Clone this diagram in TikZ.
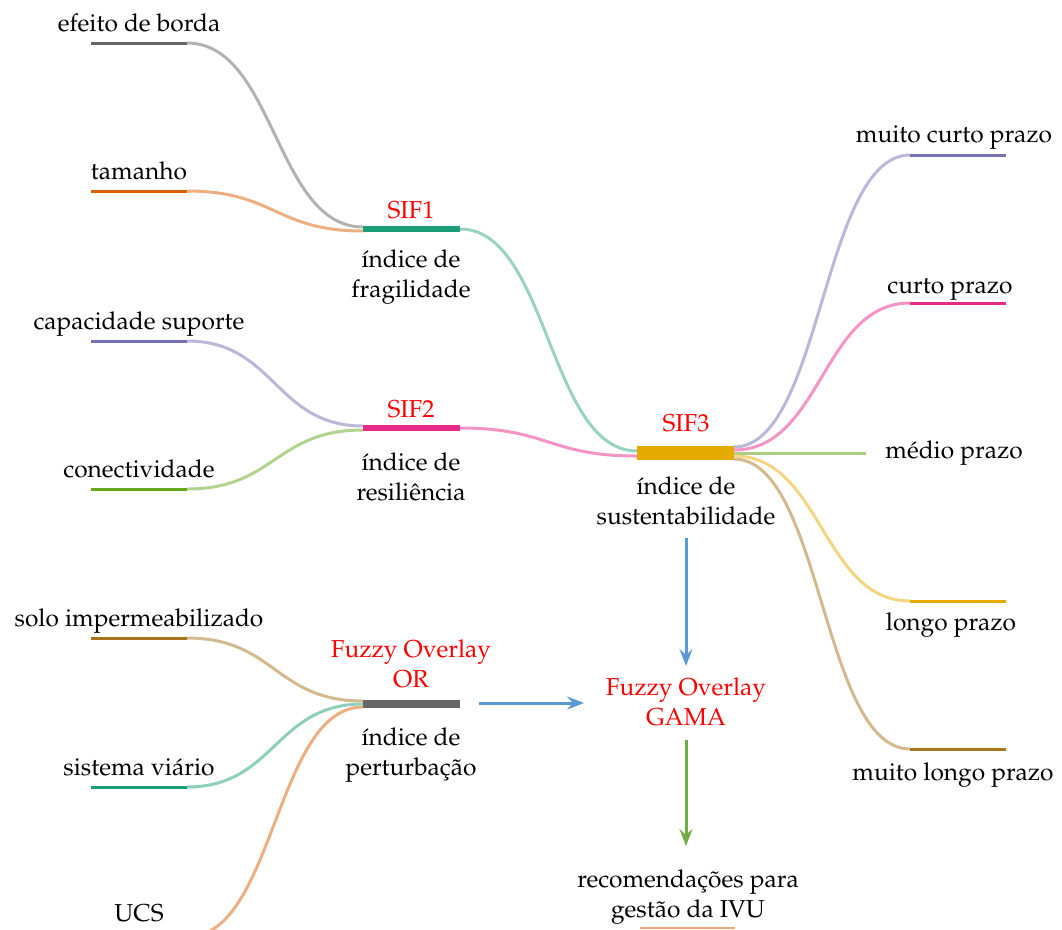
\documentclass[tikz,border=0pt]{standalone}
\usepackage[T1]{fontenc}
\usepackage{mathpazo}
\usetikzlibrary{arrows.meta,calc}
\definecolor{cteal}{HTML}{1B9E77}
\definecolor{corange}{HTML}{D95F02}
\definecolor{cpurple}{HTML}{7570B3}
\definecolor{cmagenta}{HTML}{E7298A}
\definecolor{cgreen}{HTML}{66A61E}
\definecolor{cyellow}{HTML}{E6AB02}
\definecolor{cbrown}{HTML}{A6761D}
\definecolor{cgray}{HTML}{666666}
\definecolor{cblue}{HTML}{5B9BD5}
\definecolor{cagreen}{HTML}{70AD47}
\begin{document}
\begin{tikzpicture}[x=1pt,y=-1pt,
  every node/.style={inner sep=0pt,outer sep=0pt,font=\fontsize{24.5}{29.5}\selectfont},
  lbl/.style={anchor=base,align=center},
  red lbl/.style={lbl,text=red},
  leafbar/.style={line width=3pt},
  midbar/.style={line width=6pt},
  curve/.style={line width=3pt,to path={let \p1=(\tikztostart), \p2=(\tikztotarget) in .. controls ({(\x1+\x2)/2},\y1) and ({(\x1+\x2)/2},\y2) .. (\tikztotarget)}},
  flow/.style={line width=3pt,-{Stealth[length=17pt,width=13pt,inset=6pt]}}
]
\useasboundingbox (0,0) rectangle (1062,929);
\clip (0,0) rectangle (1062,929);

% ---- coordinates of bars
\coordinate (ebL) at (91,43);   \coordinate (eb) at (187,43);
\coordinate (tamL) at (91,191); \coordinate (tam) at (187,191);
\coordinate (capL) at (91,341); \coordinate (cap) at (187,341);
\coordinate (conL) at (91,489); \coordinate (con) at (187,489);
\coordinate (soloL) at (91,638); \coordinate (solo) at (187,638);
\coordinate (sisL) at (91,787); \coordinate (sis) at (187,787);
\coordinate (ucsL) at (91,937); \coordinate (ucs) at (187,937);

\coordinate (sif1L) at (363,229); \coordinate (sif1R) at (460,229);
\coordinate (sif1a) at (363,227); \coordinate (sif1b) at (363,231);
\coordinate (sif2L) at (363,428); \coordinate (sif2R) at (460,428);
\coordinate (sif2a) at (363,426); \coordinate (sif2b) at (363,430);
\coordinate (orL) at (363,704); \coordinate (orR) at (460,704);
\coordinate (ora) at (363,701); \coordinate (orb) at (363,704); \coordinate (orc) at (363,707);
\coordinate (sif3L) at (637,453); \coordinate (sif3R) at (734,453);
\coordinate (sif3a) at (637,451); \coordinate (sif3b) at (637,456);
\coordinate (sif3o1) at (734,447); \coordinate (sif3o2) at (734,450);
\coordinate (sif3o3) at (734,453); \coordinate (sif3o4) at (734,456);
\coordinate (sif3o5) at (734,459);

\coordinate (mcp) at (910,155); \coordinate (mcpR) at (1006,155);
\coordinate (cp) at (910,303);  \coordinate (cpR) at (1006,303);
\coordinate (mp) at (866,453);
\coordinate (lp) at (910,601);  \coordinate (lpR) at (1006,601);
\coordinate (mlp) at (910,749); \coordinate (mlpR) at (1006,749);
\coordinate (recL) at (640,928); \coordinate (recR) at (735,928);

% ---- curves
\draw[curve,cgray!50!white] (eb) to (sif1a);
\draw[curve,corange!50!white] (tam) to (sif1b);
\draw[curve,cpurple!50!white] (cap) to (sif2a);
\draw[curve,cgreen!50!white] (con) to (sif2b);
\draw[curve,cbrown!50!white] (solo) to (ora);
\draw[curve,cteal!50!white] (sis) to (orb);
\draw[curve,corange!50!white] (ucs) to (orc);
\draw[curve,cteal!45!white] (sif1R) to (sif3a);
\draw[curve,cmagenta!50!white] (sif2R) to (sif3b);
\draw[curve,cpurple!50!white] (sif3o1) to (mcp);
\draw[curve,cmagenta!50!white] (sif3o2) to (cp);
\draw[line width=3pt,cgreen!55!white] (sif3o3) -- (mp);
\draw[curve,cyellow!50!white] (sif3o4) to (lp);
\draw[curve,cbrown!50!white] (sif3o5) to (mlp);

% ---- bars
\draw[leafbar,cgray] (ebL) -- (eb);
\draw[leafbar,corange] (tamL) -- (tam);
\draw[leafbar,cpurple] (capL) -- (cap);
\draw[leafbar,cgreen] (conL) -- (con);
\draw[leafbar,cbrown] (soloL) -- (solo);
\draw[leafbar,cteal] (sisL) -- (sis);
\draw[leafbar,corange] (ucsL) -- (ucs);
\draw[midbar,cteal] (sif1L) -- (sif1R);
\draw[midbar,cmagenta] (sif2L) -- (sif2R);
\draw[line width=8pt,cgray] (orL) -- (orR);
\draw[line width=14pt,cyellow] (sif3L) -- (sif3R);
\draw[leafbar,cpurple] (mcp) -- (mcpR);
\draw[leafbar,cmagenta] (cp) -- (cpR);
\draw[leafbar,cyellow] (lp) -- (lpR);
\draw[leafbar,cbrown] (mlp) -- (mlpR);
\draw[line width=2pt,corange!55!white] (recL) -- (recR);

% ---- labels (multi-line nodes: base = baseline of last line)
\node[lbl] (t-eb) at (139,31) {efeito de borda};
\node[lbl] (t-tam) at (139,179) {tamanho};
\node[lbl] (t-cap) at (139,329) {capacidade suporte};
\node[lbl] (t-con) at (139,477) {conectividade};
\node[lbl] (t-solo) at (139,626) {solo impermeabilizado};
\node[lbl] (t-sis) at (139,775) {sistema viário};
\node[lbl] (t-ucs) at (139,921) {UCS};

\node[red lbl] (t-sif1) at (411,218) {SIF1};
\node[lbl] (d-sif1) at (411,297) {índice de\\fragilidade};
\node[red lbl] (t-sif2) at (411,417) {SIF2};
\node[lbl] (d-sif2) at (411,500) {índice de\\resiliência};
\node[red lbl] (t-or) at (411,687) {Fuzzy Overlay\\OR};
\node[lbl] (d-or) at (411,775) {índice de\\perturbação};
\node[red lbl] (t-sif3) at (686,431) {SIF3};
\node[lbl] (d-sif3) at (686,524) {índice de\\sustentabilidade};

\node[lbl] (t-mcp) at (954,142) {muito curto prazo};
\node[lbl] (t-cp) at (950,293) {curto prazo};
\node[lbl] (t-mp) at (954,458) {médio prazo};
\node[lbl] (t-lp) at (951,630) {longo prazo};
\node[lbl] (t-mlp) at (953,780) {muito longo prazo};

\node[red lbl] (gama) at (686,725) {Fuzzy Overlay\\GAMA};
\node[lbl] (rec) at (688,917) {recomendações para\\gestão da IVU};

% ---- arrows
\coordinate (a1s) at (686,538); \coordinate (a1e) at (686,666);
\coordinate (a2s) at (479,703); \coordinate (a2e) at (584,703);
\coordinate (a3s) at (686,740); \coordinate (a3e) at (686,846);
\draw[flow,cblue] (a1s) -- (a1e);
\draw[flow,cblue] (a2s) -- (a2e);
\draw[flow,cagreen] (a3s) -- (a3e);
\end{tikzpicture}
\end{document}
